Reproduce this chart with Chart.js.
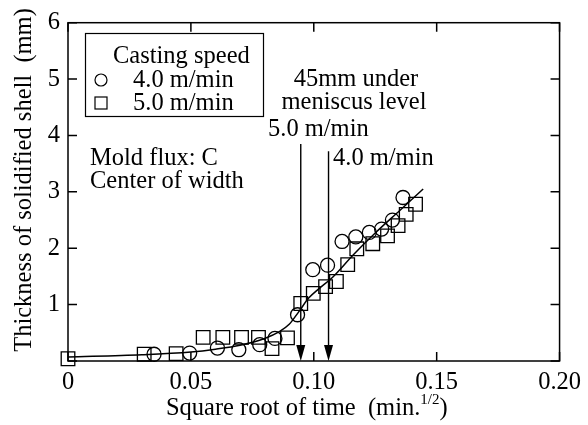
<!DOCTYPE html>
<html>
<head>
<meta charset="utf-8">
<script src="https://cdn.jsdelivr.net/npm/chart.js@4.4.1/dist/chart.umd.min.js"></script>
<style>
html,body{margin:0;padding:0;background:#fff;}
#wrap{width:588px;height:425px;position:relative;}
</style>
</head>
<body>
<div id="wrap"><canvas id="c" width="588" height="425"></canvas></div>
<script>
// ---- data ----
const xTicks = [0, 0.05, 0.10, 0.15, 0.20];
const xTickLabels = ["0", "0.05", "0.10", "0.15", "0.20"];
const yTicks = [0, 1, 2, 3, 4, 5, 6];
const yTickLabels = ["", "1", "2", "3", "4", "5", "6"];

// 4.0 m/min (circles)
const circX = [0.035, 0.0495, 0.0608, 0.0695, 0.078, 0.0842, 0.0934, 0.0996, 0.1056, 0.1115, 0.1171, 0.1226, 0.1276, 0.1320, 0.1363];
const circY = [0.12, 0.14, 0.23, 0.20, 0.29, 0.40, 0.82, 1.62, 1.70, 2.12, 2.20, 2.28, 2.34, 2.50, 2.90];

// 5.0 m/min (squares)
const sqX = [0.0, 0.031, 0.0440, 0.0550, 0.0630, 0.0706, 0.0775, 0.0830, 0.0893, 0.0947, 0.0998, 0.1048, 0.1092, 0.1138, 0.1175, 0.1240, 0.1300, 0.1343, 0.1376, 0.1414];
const sqY = [0.04, 0.12, 0.13, 0.42, 0.42, 0.42, 0.42, 0.22, 0.41, 1.02, 1.20, 1.32, 1.41, 1.71, 1.99, 2.08, 2.22, 2.40, 2.60, 2.78];

// fitted curve
const fitX = [0, 0.03, 0.05, 0.06, 0.07, 0.08, 0.086, 0.09, 0.094, 0.098, 0.102, 0.108, 0.116, 0.125, 0.135, 0.1445];
const fitY = [0.07, 0.11, 0.16, 0.21, 0.28, 0.40, 0.52, 0.65, 0.88, 1.12, 1.28, 1.50, 1.88, 2.27, 2.67, 3.05];

// arrows (45mm under meniscus level)
const arrowX = [0.0947, 0.1060];
const arrowTop = [3.85, 3.72];

const FONT = '"Liberation Serif", "Times New Roman", serif';
const FS = 24.5;
const pts = (xs, ys) => xs.map((x, i) => ({x: x, y: ys[i]}));

const decor = {
  id: 'decor',
  afterDatasetsDraw(chart) {
    const ctx = chart.ctx, a = chart.chartArea;
    const xs = chart.scales.x, ys = chart.scales.y;
    ctx.save();
    ctx.strokeStyle = '#000';
    ctx.fillStyle = '#000';
    // frame
    ctx.lineWidth = 1.5;
    ctx.strokeRect(a.left, a.top, a.right - a.left, a.bottom - a.top);
    // inward ticks
    const tl = 9;
    ctx.beginPath();
    xTicks.forEach(v => {
      const p = xs.getPixelForValue(v);
      ctx.moveTo(p, a.bottom); ctx.lineTo(p, a.bottom - tl);
      ctx.moveTo(p, a.top); ctx.lineTo(p, a.top + tl);
    });
    yTicks.forEach(v => {
      const p = ys.getPixelForValue(v);
      ctx.moveTo(a.left, p); ctx.lineTo(a.left + tl, p);
      ctx.moveTo(a.right, p); ctx.lineTo(a.right - tl, p);
    });
    ctx.stroke();
    // arrows
    ctx.lineWidth = 1.4;
    arrowX.forEach((v, i) => {
      const px = xs.getPixelForValue(v);
      const top = ys.getPixelForValue(arrowTop[i]);
      const bot = ys.getPixelForValue(0);
      ctx.beginPath();
      ctx.moveTo(px, top); ctx.lineTo(px, bot - 14);
      ctx.stroke();
      ctx.beginPath();
      ctx.moveTo(px - 4.5, bot - 16); ctx.lineTo(px + 4.5, bot - 16); ctx.lineTo(px, bot);
      ctx.closePath(); ctx.fill();
    });
    // texts
    ctx.font = FS + 'px ' + FONT;
    ctx.textBaseline = 'alphabetic';
    ctx.textAlign = 'left';
    ctx.fillText('Mold flux: C', 90, 165);
    ctx.fillText('Center of width', 90, 188);
    ctx.textAlign = 'center';
    ctx.fillText('45mm under', 356, 86);
    ctx.fillText('meniscus level', 354, 109);
    ctx.textAlign = 'left';
    ctx.fillText('5.0 m/min', 268, 136);
    ctx.fillText('4.0 m/min', 333, 165);
    // legend
    ctx.lineWidth = 1.2;
    ctx.fillStyle = '#fff';
    ctx.fillRect(85, 33, 178, 83);
    ctx.strokeRect(85.5, 33.5, 178, 83);
    ctx.fillStyle = '#000';
    ctx.fillText('Casting speed', 113, 63);
    ctx.fillText('4.0 m/min', 133, 87);
    ctx.fillText('5.0 m/min', 133, 110);
    ctx.beginPath(); ctx.arc(101, 80, 6, 0, Math.PI * 2); ctx.stroke();
    ctx.strokeRect(95, 97, 12, 12);
    // x title with superscript
    ctx.textAlign = 'left';
    const t1 = 'Square root of time  (min.', sup = '1/2', t3 = ')';
    ctx.font = FS + 'px ' + FONT; const w1 = ctx.measureText(t1).width, w3 = ctx.measureText(t3).width;
    ctx.font = '15px ' + FONT; const w2 = ctx.measureText(sup).width;
    const cx = (a.left + a.right) / 2 - 7;
    let x0 = cx - (w1 + w2 + w3) / 2;
    ctx.font = FS + 'px ' + FONT; ctx.fillText(t1, x0, 415);
    ctx.font = '15px ' + FONT; ctx.fillText(sup, x0 + w1, 404);
    ctx.font = FS + 'px ' + FONT; ctx.fillText(t3, x0 + w1 + w2, 415);
    // y title
    ctx.save();
    ctx.translate(31, 180);
    ctx.rotate(-Math.PI / 2);
    ctx.textAlign = 'center';
    ctx.fillText('Thickness of solidified shell  (mm)', 0, 0);
    ctx.restore();
    ctx.restore();
  }
};

new Chart(document.getElementById('c'), {
  type: 'scatter',
  data: {
    datasets: [
      {label: 'fit', data: pts(fitX, fitY), showLine: true, borderColor: '#000', borderWidth: 1.5,
       pointRadius: 0, cubicInterpolationMode: 'monotone', fill: false, clip: false},
      {label: '4.0 m/min', data: pts(circX, circY), pointStyle: 'circle', pointRadius: 7,
       borderColor: '#000', borderWidth: 1.3, backgroundColor: 'rgba(0,0,0,0)', showLine: false, clip: false},
      {label: '5.0 m/min', data: pts(sqX, sqY), pointStyle: 'rect', pointRadius: 9.6,
       borderColor: '#000', borderWidth: 1.3, backgroundColor: 'rgba(0,0,0,0)', showLine: false, clip: false}
    ]
  },
  options: {
    responsive: false,
    animation: false,
    layout: {padding: {top: 17, right: 23, left: 0, bottom: 0}},
    plugins: {legend: {display: false}, tooltip: {enabled: false}},
    scales: {
      x: {
        type: 'linear', min: 0, max: 0.2,
        afterBuildTicks: s => { s.ticks = xTicks.map(v => ({value: v})); },
        afterFit: s => { s.height = 64; },
        grid: {display: false, drawTicks: false},
        border: {display: false},
        ticks: {padding: 7, color: '#000', font: {family: FONT, size: FS},
                callback: (v, i) => xTickLabels[i]}
      },
      y: {
        type: 'linear', min: 0, max: 6,
        afterBuildTicks: s => { s.ticks = yTicks.map(v => ({value: v})); },
        afterFit: s => { s.width = 68; },
        grid: {display: false, drawTicks: false},
        border: {display: false},
        ticks: {padding: 8, color: '#000', font: {family: FONT, size: FS},
                callback: (v, i) => yTickLabels[i]}
      }
    }
  },
  plugins: [decor]
});
</script>
</body>
</html>
